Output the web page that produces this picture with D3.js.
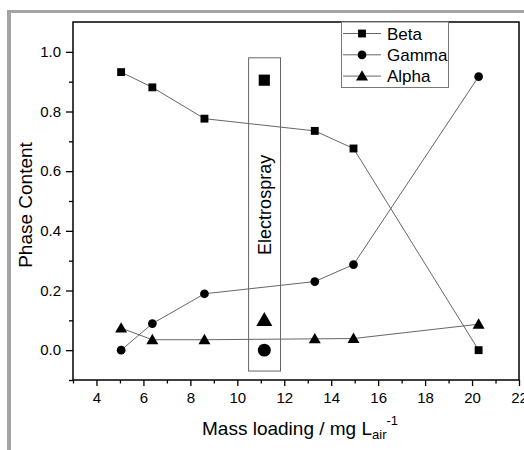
<!DOCTYPE html>
<html>
<head>
<meta charset="utf-8">
<script src="https://cdn.jsdelivr.net/npm/d3@7"></script>
<style>
  html, body { margin: 0; padding: 0; background: #fff; }
  svg { display: block; font-family: "Liberation Sans", Arial, sans-serif; }
</style>
</head>
<body>
<svg id="chart" width="524" height="450"></svg>
<script>
// Mass loading (mg per litre of air) for each sample
const massLoading = [5.05, 6.38, 8.6, 13.3, 14.95, 20.28];
// Phase fractions for each polymorph
const beta  = [0.932, 0.881, 0.776, 0.735, 0.676, 0.0];
const gamma = [0.0, 0.089, 0.189, 0.230, 0.287, 0.917];
const alpha = [0.074, 0.035, 0.035, 0.038, 0.039, 0.087];
// Electrospray reference sample
const electrosprayX = 11.15;
const electrospray = { beta: 0.905, gamma: 0.0, alpha: 0.1 };
const electrosprayRange = { x0: 10.48, x1: 11.84, y0: -0.07, y1: 0.98 };

const xTicks = [4, 6, 8, 10, 12, 14, 16, 18, 20, 22];
const yTicks = [0.0, 0.2, 0.4, 0.6, 0.8, 1.0];

const svg = d3.select("#chart");
const W = 524, H = 450;
const m = { left: 73, top: 22, right: 519, bottom: 380 };

// Outer grey frame
svg.append("rect").attr("x", 7).attr("y", 10).attr("width", W).attr("height", 3).attr("fill", "#a4a4a4");
svg.append("rect").attr("x", 7).attr("y", 10).attr("width", 4).attr("height", H).attr("fill", "#a4a4a4");

const x = d3.scaleLinear().domain([3, 22]).range([m.left, m.right]);
const y = d3.scaleLinear().domain([-0.1, 1.1]).range([m.bottom, m.top]);

// Axes: major ticks with labels, minor ticks without
const xAxis = svg.append("g").attr("transform", `translate(0,${m.bottom})`)
  .call(d3.axisBottom(x).tickValues(xTicks).tickFormat(d3.format("d")).tickSize(6).tickPadding(6));
const xMinor = svg.append("g").attr("transform", `translate(0,${m.bottom})`)
  .call(d3.axisBottom(x).tickValues(d3.range(3, 22, 2)).tickFormat("").tickSize(3.5));
const yAxis = svg.append("g").attr("transform", `translate(${m.left},0)`)
  .call(d3.axisLeft(y).tickValues(yTicks).tickFormat(d3.format(".1f")).tickSize(7).tickPadding(5));
const yMinor = svg.append("g").attr("transform", `translate(${m.left},0)`)
  .call(d3.axisLeft(y).tickValues([-0.1, 0.1, 0.3, 0.5, 0.7, 0.9]).tickFormat("").tickSize(4));

[xAxis, xMinor, yAxis, yMinor].forEach(g => {
  g.select(".domain").remove();
  g.selectAll(".tick line").attr("stroke", "#000").attr("stroke-width", 1.3);
  g.selectAll(".tick text").attr("fill", "#000").style("font-size", "15px")
    .style("font-family", "'Liberation Sans', Arial, sans-serif");
});

// Plot frame
svg.append("rect").attr("x", m.left).attr("y", m.top)
  .attr("width", m.right - m.left).attr("height", m.bottom - m.top)
  .attr("fill", "none").attr("stroke", "#000").attr("stroke-width", 1.5);

// Axis titles
svg.append("text").attr("transform", `translate(32,205) rotate(-90)`)
  .attr("text-anchor", "middle").style("font-size", "19px").text("Phase Content");

const xt = svg.append("text").attr("x", 202).attr("y", 435).style("font-size", "19px");
xt.append("tspan").text("Mass loading / mg L");
xt.append("tspan").attr("dy", 4).style("font-size", "13px").text("air");
xt.append("tspan").attr("dy", -14).style("font-size", "13px").text("-1");

// Marker symbols
const sym = {
  beta: d3.symbol().type(d3.symbolSquare).size(62),
  gamma: d3.symbol().type(d3.symbolCircle).size(60),
  alpha: d3.symbol().type(d3.symbolTriangle).size(62)
};

const series = [
  { key: "beta", name: "Beta", values: beta },
  { key: "gamma", name: "Gamma", values: gamma },
  { key: "alpha", name: "Alpha", values: alpha }
];

const line = d3.line().x(d => x(d[0])).y(d => y(d[1]));

series.forEach(s => {
  const pts = massLoading.map((v, i) => [v, s.values[i]]);
  svg.append("path").datum(pts).attr("d", line)
    .attr("fill", "none").attr("stroke", "#555").attr("stroke-width", 0.9);
  svg.selectAll(null).data(pts).enter().append("path")
    .attr("d", sym[s.key])
    .attr("transform", d => `translate(${x(d[0])},${y(d[1]) + (s.key === "alpha" ? 1 : 0)})`)
    .attr("fill", "#000");
});

// Electrospray sample box
const er = electrosprayRange;
svg.append("rect").attr("x", x(er.x0)).attr("y", y(er.y1))
  .attr("width", x(er.x1) - x(er.x0)).attr("height", y(er.y0) - y(er.y1))
  .attr("fill", "none").attr("stroke", "#666").attr("stroke-width", 1);
const bigSym = {
  beta: d3.symbol().type(d3.symbolSquare).size(125),
  gamma: d3.symbol().type(d3.symbolCircle).size(130),
  alpha: d3.symbol().type(d3.symbolTriangle).size(112)
};
Object.keys(electrospray).forEach(k => {
  svg.append("path").attr("d", bigSym[k])
    .attr("transform", `translate(${x(electrosprayX)},${y(electrospray[k]) + (k === "alpha" ? 1 : 0)})`)
    .attr("fill", "#000");
});
svg.append("text")
  .attr("transform", `translate(${x(electrosprayX) + 7},${y(0.487)}) rotate(-90)`)
  .attr("text-anchor", "middle").style("font-size", "18px").text("Electrospray");

// Legend
const lg = svg.append("g");
lg.append("rect").attr("x", 341.5).attr("y", m.top).attr("width", 107).attr("height", 65.5)
  .attr("fill", "#fff").attr("stroke", "#777").attr("stroke-width", 1);
series.forEach((s, i) => {
  const cy = 33.5 + i * 21.3;
  lg.append("line").attr("x1", 343).attr("x2", 381).attr("y1", cy).attr("y2", cy)
    .attr("stroke", "#555").attr("stroke-width", 0.9);
  lg.append("path").attr("d", sym[s.key])
    .attr("transform", `translate(362,${cy + (s.key === "alpha" ? 1 : 0)})`).attr("fill", "#000");
  lg.append("text").attr("x", 387).attr("y", cy + 6).style("font-size", "17px").text(s.name);
});
</script>
</body>
</html>
